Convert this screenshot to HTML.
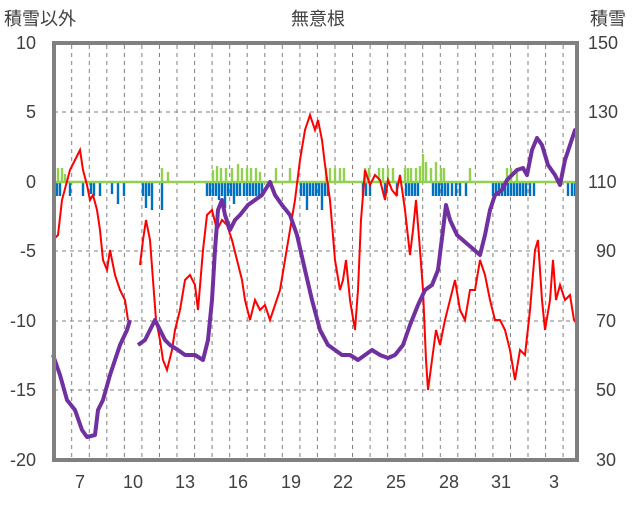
<!DOCTYPE html>
<html><head><meta charset="utf-8"><style>
body{margin:0;background:#fff}
svg text{font-family:"Liberation Sans","Noto Sans CJK JP",sans-serif;font-size:18px;fill:#404040}
</style></head><body>
<svg width="636" height="501" xmlns="http://www.w3.org/2000/svg">
<rect width="636" height="501" fill="#fff"/>
<g stroke="#808080" stroke-width="1" stroke-dasharray="4,4">
<line x1="54" x2="577" y1="112" y2="112"/><line x1="54" x2="577" y1="251" y2="251"/>
<line x1="54" x2="577" y1="321" y2="321"/><line x1="54" x2="577" y1="390" y2="390"/>
<path d="M71.7 45V458M89.3 45V458M106.8 45V458M124.4 45V458M141.9 45V458M159.5 45V458M177 45V458M194.6 45V458M212.1 45V458M229.7 45V458M247.2 45V458M264.8 45V458M282.3 45V458M299.9 45V458M317.4 45V458M335 45V458M352.5 45V458M370.1 45V458M387.6 45V458M405.2 45V458M422.7 45V458M440.3 45V458M457.8 45V458M475.4 45V458M492.9 45V458M510.5 45V458M528 45V458M545.6 45V458M563.1 45V458"/>
</g>
<path stroke="#0070c0" stroke-width="2.4" fill="none" d="M57 182v14M60 182v14M70 182v14M83 182v14M91 182v12M94 182v14M100 182v14M112 182v12M118 182v22M124 182v14M143 182v14M146 182v26M149 182v14M152 182v28M162 182v28M207 182v14M210 182v14M213 182v14M216 182v14M219 182v18M222 182v14M225 182v26M228 182v14M231 182v14M234 182v22M237 182v14M240 182v14M244 182v14M247 182v14M250 182v14M253 182v14M256 182v14M259 182v14M262 182v14M301 182v14M304 182v14M307 182v28M310 182v14M313 182v14M316 182v14M319 182v14M322 182v28M325 182v14M328 182v14M363 182v14M366 182v14M370 182v14M385 182v14M397 182v14M406 182v14M409 182v14M412 182v14M415 182v14M418 182v14M433 182v14M436 182v14M439 182v14M442 182v14M445 182v14M448 182v14M452 182v14M456 182v14M460 182v14M466 182v14M493 182v14M496 182v14M499 182v14M502 182v14M505 182v14M508 182v14M511 182v14M514 182v14M517 182v14M520 182v14M523 182v14M526 182v14M530 182v14M534 182v14M568 182v14M572 182v14M575 182v14"/>
<path stroke="#92d050" stroke-width="2.4" fill="none" d="M54 182v-28M58 182v-14M62 182v-14M65 182v-8M162 182v-14M168 182v-10M213 182v-12M217 182v-16M221 182v-14M226 182v-14M232 182v-14M238 182v-18M242 182v-14M247 182v-14M251 182v-14M256 182v-14M260 182v-10M276 182v-14M290 182v-14M326 182v-14M330 182v-14M335 182v-14M340 182v-14M344 182v-14M365 182v-14M369 182v-14M379 182v-14M383 182v-14M388 182v-14M393 182v-14M405 182v-14M408 182v-14M411 182v-14M416 182v-14M420 182v-16M423 182v-28M426 182v-20M431 182v-14M436 182v-20M441 182v-14M444 182v-14M470 182v-14M507 182v-14M511 182v-14M517 182v-14"/>
<line x1="54" x2="577" y1="182" y2="182" stroke="#92d050" stroke-width="2.5"/>
<polyline fill="none" stroke="#ff0000" stroke-width="2" points="53,240 58,235 62,200 66,185 70,170 75,160 80,150 83,170 87,185 90,200 93,195 97,210 100,230 103,260 107,270 110,250 115,275 120,290 125,300 128,320"/>
<polyline fill="none" stroke="#ff0000" stroke-width="2" points="140,265 143,240 146,220 150,240 153,280 156,320 160,340 163,360 167,370 172,350 175,330 180,310 185,280 190,275 195,285 198,310 203,250 207,215 212,210 217,230 222,220 227,225 232,240 237,260 242,280 245,300 250,320 255,300 260,310 265,305 270,320 275,305 280,290 285,260 290,230 295,200 300,160 305,130 310,115 315,130 318,120 322,140 325,165 330,200 335,260 340,290 343,280 346,260 350,300 355,330 358,290 361,220 365,170 370,185 375,175 380,180 385,200 388,180 392,190 396,195 400,175 405,210 410,255 413,230 416,200 420,250 423,290 426,360 428,390 432,360 436,330 440,345 445,320 450,300 455,280 460,310 465,320 470,290 475,290 480,260 485,275 490,300 495,320 500,320 505,330 510,350 515,380 520,350 525,355 530,310 535,250 538,240 542,300 545,330 550,300 553,260 556,300 560,285 565,300 570,295 574,320 578,325"/>
<polyline fill="none" stroke="#7030a0" stroke-width="4" stroke-linejoin="round" points="53,355 60,375 67,400 75,410 82,430 87,437 95,435 98,410 103,400 110,375 115,360 120,345 127,330 130,320"/>
<polyline fill="none" stroke="#7030a0" stroke-width="4" stroke-linejoin="round" points="138,345 145,340 150,330 155,320 160,330 165,340 170,345 178,350 185,355 195,355 203,360 208,340 212,300 215,250 218,210 222,200 225,215 230,230 235,220 240,215 248,205 255,200 262,195 270,182 275,195 282,205 290,215 297,235 305,270 312,300 320,330 328,345 335,350 342,355 350,355 358,360 365,355 372,350 380,355 388,358 395,355 403,345 410,325 418,305 425,290 432,285 438,270 443,230 446,205 450,220 457,235 465,242 472,248 480,255 485,235 490,210 495,195 502,190 507,180 512,175 517,170 523,168 527,175 532,150 537,138 542,145 548,165 555,175 560,185 565,160 570,145 575,130 578,130"/>
<rect x="54" y="43" width="523" height="417" fill="none" stroke="#808080" stroke-width="4"/>
<text x="318" y="25" text-anchor="middle">無意根</text>
<text x="4" y="25">積雪以外</text>
<text x="590" y="25">積雪</text>
<g text-anchor="end">
<text x="36" y="49">10</text><text x="36" y="118">5</text><text x="36" y="188">0</text><text x="36" y="257">-5</text><text x="36" y="327">-10</text><text x="36" y="396">-15</text><text x="36" y="466">-20</text>
</g>
<g text-anchor="start">
<text x="588" y="49">150</text><text x="588" y="118">130</text><text x="588" y="188">110</text><text x="596" y="257">90</text><text x="596" y="327">70</text><text x="596" y="396">50</text><text x="596" y="466">30</text>
</g>
<g text-anchor="middle">
<text x="80" y="488">7</text><text x="133" y="488">10</text><text x="185" y="488">13</text><text x="238" y="488">16</text><text x="291" y="488">19</text><text x="343" y="488">22</text><text x="396" y="488">25</text><text x="449" y="488">28</text><text x="501" y="488">31</text><text x="554" y="488">3</text>
</g>
</svg>
</body></html>
